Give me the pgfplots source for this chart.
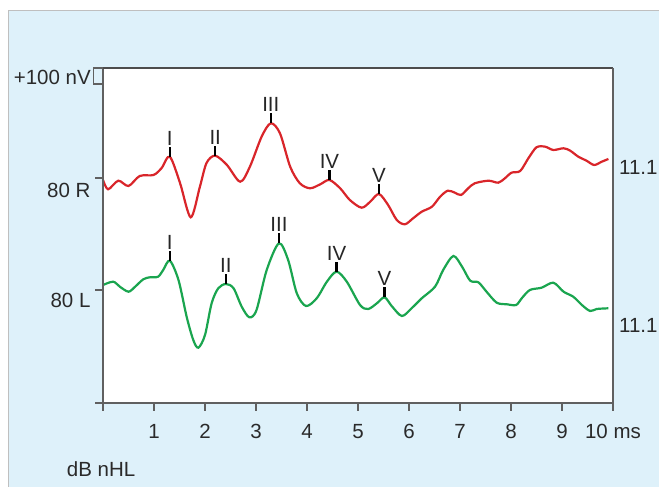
\documentclass[border=0pt]{standalone}
\usepackage{fontspec}
\setmainfont{Liberation Sans}
\usepackage{pgfplots}
\usepackage{pgfplotstable}
\pgfplotsset{compat=1.18}
\definecolor{bgblue}{HTML}{DEF1FA}
\definecolor{axgray}{HTML}{606060}
\definecolor{abrred}{HTML}{D9252A}
\definecolor{abrgreen}{HTML}{1AA54F}
\definecolor{txt}{HTML}{2A2A2A}

% Right ear, 80 dB nHL (x: ms, y: vertical position in plot units, 1 unit = 100/16 nV)
\pgfplotstableread{
x y
0.00 223
0.10 213.7
0.30 222.3
0.50 217
0.72 227
0.99 228
1.15 235
1.31 246.3
1.51 220
1.72 185.7
1.90 216.3
2.03 240
2.20 247.3
2.43 238
2.69 221.3
2.88 236.3
3.11 266.3
3.29 279.7
3.47 269.7
3.67 236.3
3.86 219.7
4.06 214.7
4.26 218.7
4.44 223
4.65 214.7
4.84 203
5.07 195.3
5.24 201.3
5.41 209
5.59 198
5.76 183
5.92 178.7
6.08 184.7
6.25 191.3
6.45 196.3
6.61 206.3
6.76 212.3
6.90 210.3
7.02 208
7.16 214.7
7.29 219.7
7.56 222.3
7.75 220.3
7.88 224.7
8.01 230.3
8.18 232
8.34 244.7
8.50 255.7
8.67 256.3
8.83 253
9.03 254.7
9.16 252.3
9.32 246.3
9.48 242.3
9.63 238
9.78 241.3
9.91 244
}\redtable

% Left ear, 80 dB nHL
\pgfplotstableread{
x y
0.00 118
0.20 121.3
0.33 116.3
0.50 111.3
0.63 116.3
0.79 123.7
0.92 125.7
1.08 126.3
1.18 133
1.31 142.3
1.48 123
1.64 86.3
1.77 63
1.87 55.3
2.00 68
2.13 99.7
2.26 114.7
2.41 119
2.56 114.7
2.72 96.3
2.87 85.7
3.01 93
3.21 133
3.45 159.7
3.63 143
3.80 109.7
3.98 97
4.19 104.7
4.39 121.3
4.58 131.3
4.78 121.3
5.04 98
5.20 94
5.37 99.7
5.52 105.7
5.66 97
5.86 87
6.05 94.7
6.25 104.7
6.51 116.3
6.67 133
6.87 147
7.04 136.3
7.20 122.3
7.36 120.7
7.52 111.3
7.72 100.3
7.92 98.7
8.10 98
8.21 104.7
8.37 113
8.60 115.3
8.83 120.3
9.03 111.3
9.22 106.3
9.39 98
9.55 92
9.68 94
9.91 94.7
}\greentable

\newcommand{\peak}[3]{%
  \draw[black, line width=2.2bp] (axis cs:#1,#2) -- ++(0,10bp);
  \node[anchor=base, inner sep=0pt, yshift=11.5bp, text=black!85] at (axis cs:#1,#2) {#3};%
}

\begin{document}
\fontsize{20.5bp}{24bp}\selectfont
\begin{tikzpicture}[x=1bp,y=1bp,font=\fontsize{20.5bp}{24bp}\selectfont]
\useasboundingbox (0,0) rectangle (659,487);
\fill[white] (0,0) rectangle (659,487);
\fill[bgblue] (8,0) rectangle (659,476);
\draw[black!25, line width=1bp] (8,0) -- (8,476) -- (659,476);

\begin{axis}[
  at={(103bp,84bp)}, anchor=south west,
  scale only axis, width=510bp, height=335bp,
  xmin=0, xmax=10, ymin=0, ymax=335,
  axis background/.style={fill=white},
  axis line style={draw=none},
  xtick={0,1,...,10}, xticklabels={},
  ytick={0,113,225}, yticklabels={},
  xtick pos=lower, ytick pos=left,
  tick align=outside, major tick length=8bp,
  tick style={axgray, line width=1.4bp},
  clip=false,
]
\addplot[abrred, line width=2.2bp, smooth] table[x=x,y=y] {\redtable};
\addplot[abrgreen, line width=2.2bp, smooth] table[x=x,y=y] {\greentable};
\peak{1.31}{246.3}{I}
\peak{2.20}{247.3}{II}
\peak{3.29}{279.7}{III}
\peak{4.44}{223}{IV}
\peak{5.41}{209}{V}
\peak{1.31}{142.3}{I}
\peak{2.41}{119}{II}
\peak{3.45}{159.7}{III}
\peak{4.58}{131.3}{IV}
\peak{5.52}{105.7}{V}
\end{axis}

% frame of the plot area
\draw[axgray, line width=2bp] (103,83) -- (103,419);
\draw[black!70, line width=1.2bp] (103,419) -- (613,419);
\draw[axgray, line width=2bp] (613,83) -- (613,419);
\draw[axgray, line width=1.3bp] (103,84) -- (613,84);
% 100 nV scale bar
\draw[axgray, line width=1.3bp] (103,419) -- (93.5,419) -- (93.5,403) -- (103,403);

% labels
\node[anchor=base east, inner sep=0pt, text=txt] at (91,402) {+100 nV};
\node[anchor=base east, inner sep=0pt, text=txt] at (90.7,289) {80 R};
\node[anchor=base east, inner sep=0pt, text=txt] at (90.7,179) {80 L};
\node[anchor=base west, inner sep=0pt, text=txt] at (619,312) {11.1};
\node[anchor=base west, inner sep=0pt, text=txt] at (619,154) {11.1};
\foreach \k in {1,...,9} {
  \node[anchor=base, inner sep=0pt, text=txt] at ({103+51*\k},48) {\k};
}
\node[anchor=base, inner sep=0pt, text=txt] at (613,48) {10 ms};
\node[anchor=base west, inner sep=0pt, text=txt] at (66.7,10) {dB nHL};
\end{tikzpicture}
\end{document}
